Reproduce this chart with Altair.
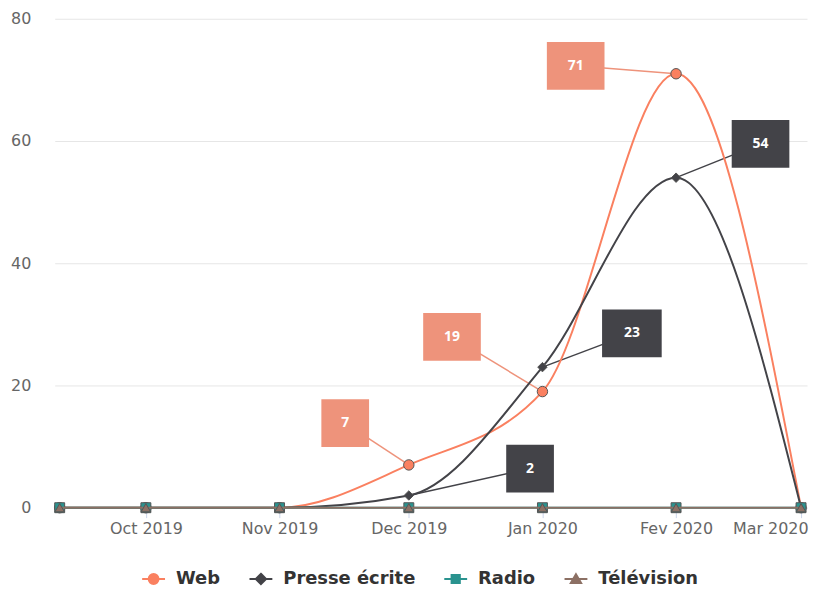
import altair as alt
import pandas as pd

# ---------------- data ----------------
DATES = ["2019-09-11", "2019-10-01", "2019-11-01", "2019-12-01",
         "2020-01-01", "2020-02-01", "2020-03-01"]
SERIES = ["Web", "Presse écrite", "Radio", "Télévision"]
WEB = [0, 0, 0, 7, 19, 71, 0]
PRESSE = [0, 0, 0, 2, 23, 54, 0]
RADIO = [0, 0, 0, 0, 0, 0, 0]
TELE = [0, 0, 0, 0, 0, 0, 0]
MONTHS = ["Jan", "Fev", "Mar", "Avr", "Mai", "Jun",
          "Jul", "Aou", "Sep", "Oct", "Nov", "Dec"]
TICK_YM = [(2019, 10), (2019, 11), (2019, 12), (2020, 1), (2020, 2), (2020, 3)]
Y_TICKS = [0, 20, 40, 60, 80]

VALUES = {"Web": WEB, "Presse écrite": PRESSE, "Radio": RADIO, "Télévision": TELE}
rows = []
for s in SERIES:
    for d, v in zip(DATES, VALUES[s]):
        rows.append({"date": d, "series": s, "value": v})
df = pd.DataFrame(rows)

# ---------------- styles ----------------
LINE_COL = {"Web": "#FA8060", "Presse écrite": "#434348",
            "Radio": "#2A938F", "Télévision": "#8C7064"}
SHAPE = {"Web": "circle", "Presse écrite": "diamond",
         "Radio": "square", "Télévision": "triangle-up"}
MSIZE = {"Web": 110, "Presse écrite": 90, "Radio": 100, "Télévision": 90}
LEG_PATH = {
    "Web": "M-1,0H1M-0.43,0A0.43,0.43 0 1,0 0.43,0A0.43,0.43 0 1,0 -0.43,0Z",
    "Presse écrite": "M-1,0H1M0,-0.45L0.45,0L0,0.45L-0.45,0Z",
    "Radio": "M-1,0H1M-0.36,-0.36H0.36V0.36H-0.36Z",
    "Télévision": "M-1,0H1M0,-0.42L0.45,0.36H-0.45Z",
}
BOX_COL = {"Web": "#EE937B", "Presse écrite": "#434348"}
# (series, date, dx, dy, box width)
ANNOT = [
    ("Web", "2019-12-01", -64, -42, 48),
    ("Web", "2020-01-01", -91, -55, 58),
    ("Web", "2020-02-01", -101, -8, 58),
    ("Presse écrite", "2019-12-01", 122, -27, 48),
    ("Presse écrite", "2020-01-01", 90, -34, 60),
    ("Presse écrite", "2020-02-01", 85, -34, 58),
]
BOX_H = 48

month_arr = "[" + ",".join("'%s'" % m for m in MONTHS) + "]"
x_axis = alt.Axis(
    values=[alt.DateTime(year=y, month=m, date=1, utc=True) for y, m in TICK_YM],
    labelExpr=month_arr + "[utcmonth(datum.value)] + ' ' + utcyear(datum.value)",
    title=None, grid=False, domainColor="#ccd6eb", tickColor="#ccd6eb",
    tickSize=10, labelPadding=3, labelFontSize=16, labelColor="#666666",
    labelFont="DejaVu Sans", labelFlush=10, labelFlushOffset=7,
)
x_enc = alt.X(
    "date:T",
    scale=alt.Scale(type="utc", domain=[
        alt.DateTime(year=2019, month=9, date=9, hours=20, minutes=20, utc=True),
        alt.DateTime(year=2020, month=3, date=2, hours=9, minutes=10, utc=True)]),
    axis=x_axis,
)
y_enc = alt.Y(
    "value:Q",
    scale=alt.Scale(domain=[0, 80]),
    axis=alt.Axis(values=Y_TICKS, title=None, grid=True, gridColor="#e6e6e6",
                  domain=False, ticks=False, labelPadding=24, labelFontSize=16,
                  labelColor="#666666", labelFont="DejaVu Sans"),
)

leg = alt.Legend(orient="none", legendX=87, legendY=551, direction="horizontal",
                 title=None, labelFont="DejaVu Sans", labelFontSize=18,
                 labelFontWeight="bold", labelColor="#333333", symbolSize=529,
                 symbolStrokeWidth=2, labelOffset=10, columnPadding=25,
                 symbolOpacity=1)

layers = []
# invisible layer that drives the legend
layers.append(
    alt.Chart(df).mark_point(filled=True, opacity=0).encode(
        x=x_enc, y=y_enc,
        color=alt.Color("series:N", scale=alt.Scale(domain=SERIES, range=[LINE_COL[s] for s in SERIES]), legend=leg),
        stroke=alt.Stroke("series:N", scale=alt.Scale(domain=SERIES, range=[LINE_COL[s] for s in SERIES]), legend=leg),
        shape=alt.Shape("series:N", scale=alt.Scale(domain=SERIES, range=[LEG_PATH[s] for s in SERIES]), legend=leg),
    )
)

# connectors
for s, d, dx, dy, w in ANNOT:
    sub = df[(df.series == s) & (df.date == d)]
    layers.append(
        alt.Chart(sub).mark_rule(color=BOX_COL[s], strokeWidth=1.5,
                                 x2Offset=dx, y2Offset=dy).encode(
            x=x_enc, y=y_enc, x2="date:T", y2="value:Q")
    )

# series
for s in SERIES:
    sub = df[df.series == s]
    layers.append(
        alt.Chart(sub).mark_line(interpolate="monotone", color=LINE_COL[s],
                                 strokeWidth=2).encode(x=x_enc, y=y_enc)
    )
    layers.append(
        alt.Chart(sub).mark_point(shape=SHAPE[s], filled=True, fill=LINE_COL[s],
                                  stroke="#555555", strokeWidth=1, size=MSIZE[s],
                                  opacity=1).encode(x=x_enc, y=y_enc)
    )

# label boxes and texts
for s, d, dx, dy, w in ANNOT:
    sub = df[(df.series == s) & (df.date == d)]
    layers.append(
        alt.Chart(sub).mark_rect(color=BOX_COL[s], opacity=1,
                                 xOffset=dx - w / 2, x2Offset=dx + w / 2,
                                 yOffset=dy - BOX_H / 2, y2Offset=dy + BOX_H / 2).encode(
            x=x_enc, x2="date:T", y=y_enc, y2="value:Q")
    )
    layers.append(
        alt.Chart(sub).mark_text(dx=dx, dy=dy, font="Open Sans", fontWeight="bold",
                                 fontSize=14, color="white", align="center",
                                 baseline="middle").encode(
            x=x_enc, y=y_enc, text="value:Q")
    )

chart = alt.layer(*layers).properties(
    width=757, height=492,
    autosize=alt.AutoSizeParams(type="none"),
    padding={"left": 47, "top": 9, "right": 3, "bottom": 83},
).configure_view(stroke=None)

chart.save("out.html", embed_options={"renderer": "svg", "actions": False})
